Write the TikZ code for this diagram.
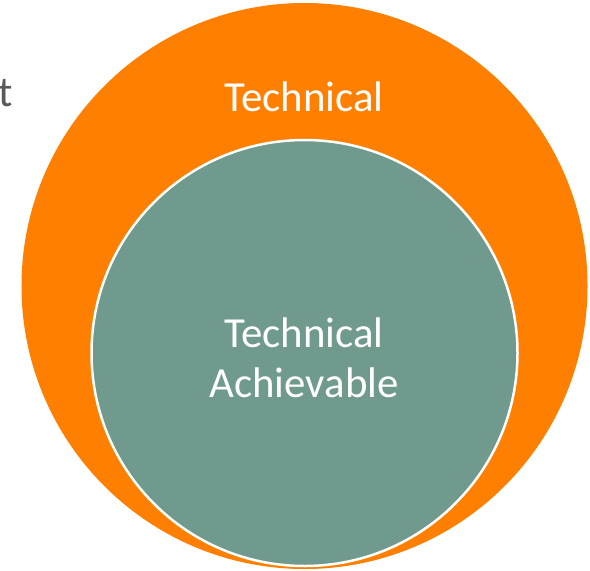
\documentclass[tikz,border=0pt]{standalone}
\usepackage{fontspec}
\setmainfont{Carlito}
\usetikzlibrary{positioning}
\definecolor{cOrange}{RGB}{255,128,0}
\definecolor{cTeal}{RGB}{111,154,141}
\definecolor{cGray}{RGB}{89,89,89}

\begin{document}
\begin{tikzpicture}[x=1bp, y=-1bp,
            ring/.style={circle, inner sep=0pt},
            lbl/.style={text=white, font=\fontsize{43}{50}\selectfont, align=center}]
            \useasboundingbox (0,0) rectangle (590,571);
            \node[ring, fill=cOrange, minimum size=566bp] (outer) at (304.5,286) {};
            \node[ring, fill=cTeal, draw=white, line width=2.5bp, minimum size=426bp] (inner) at (304.5,353) {};
            \node[lbl] (tech) at (304,97) {Technical};
            \node[lbl] (ach) at (304,358) {Technical\\Achievable};
            \node[text=cGray, font=\fontsize{43}{50}\selectfont, anchor=east, inner sep=0pt] (cut) at (13,93) {t};
        \end{tikzpicture}
\end{document}
